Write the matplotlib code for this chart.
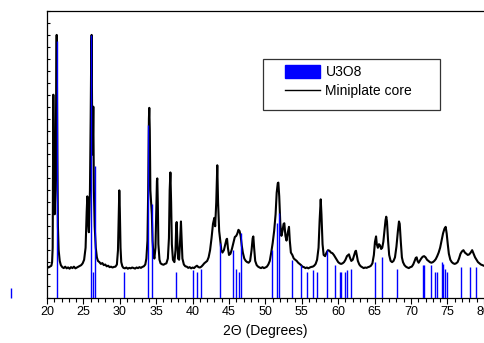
import matplotlib
matplotlib.use("Agg")
import matplotlib.pyplot as plt
from matplotlib.ticker import MultipleLocator, NullFormatter
from matplotlib.patches import Rectangle, Patch
from matplotlib.lines import Line2D

plt.rcParams['font.family'] = ['Liberation Sans', 'DejaVu Sans']

# Measured pattern: Miniplate core (2-theta, counts)
core_2theta = [
    20.0, 20.2, 20.4, 20.6, 20.7, 20.78, 20.87, 20.95, 21.05, 21.15, 21.25, 21.33, 21.42, 21.5, 21.6, 21.75, 21.9,
    22.1, 22.3, 22.5, 22.7, 22.9, 23.1, 23.3, 23.5, 23.7, 23.9, 24.1, 24.3, 24.5, 24.7, 24.9, 25.1, 25.3, 25.45,
    25.54, 25.62, 25.75, 25.9, 26.0, 26.08, 26.13, 26.2, 26.28, 26.36, 26.44, 26.55, 26.7, 26.85, 27.0, 27.2,
    27.4, 27.6, 27.8, 28.0, 28.2, 28.4, 28.6, 28.8, 29.0, 29.2, 29.4, 29.6, 29.75, 29.85, 29.93, 30.0, 30.1,
    30.2, 30.35, 30.5, 30.7, 30.9, 31.1, 31.3, 31.5, 31.7, 31.9, 32.1, 32.3, 32.5, 32.7, 32.9, 33.1, 33.3, 33.5,
    33.65, 33.8, 33.9, 34.0, 34.05, 34.12, 34.2, 34.3, 34.4, 34.5, 34.6, 34.75, 34.9, 35.0, 35.1, 35.15, 35.22,
    35.3, 35.45, 35.6, 35.8, 36.0, 36.2, 36.4, 36.6, 36.75, 36.85, 36.95, 37.05, 37.15, 37.3, 37.5, 37.65,
    37.75, 37.81, 37.9, 38.0, 38.15, 38.3, 38.4, 38.48, 38.6, 38.8, 39.0, 39.2, 39.4, 39.6, 39.8, 40.0, 40.2,
    40.4, 40.6, 40.8, 41.0, 41.2, 41.4, 41.6, 41.8, 42.0, 42.2, 42.4, 42.6, 42.8, 42.98, 43.1, 43.25, 43.39,
    43.5, 43.65, 43.8, 43.95, 44.1, 44.3, 44.5, 44.65, 44.73, 44.85, 45.0, 45.2, 45.4, 45.6, 45.8, 46.0, 46.15,
    46.3, 46.45, 46.6, 46.75, 46.9, 47.1, 47.3, 47.5, 47.7, 47.9, 48.1, 48.25, 48.34, 48.45, 48.6, 48.8, 49.0,
    49.2, 49.4, 49.6, 49.8, 50.0, 50.2, 50.4, 50.6, 50.8, 51.0, 51.2, 51.4, 51.55, 51.7, 51.78, 51.9, 52.05,
    52.2, 52.35, 52.5, 52.6, 52.75, 52.9, 53.05, 53.24, 53.35, 53.5, 53.7, 53.9, 54.1, 54.3, 54.5, 54.7, 54.9,
    55.1, 55.3, 55.5, 55.7, 55.9, 56.1, 56.3, 56.5, 56.7, 56.9, 57.1, 57.3, 57.45, 57.6, 57.7, 57.85, 58.0,
    58.2, 58.4, 58.6, 58.8, 59.0, 59.2, 59.4, 59.6, 59.8, 60.0, 60.2, 60.4, 60.6, 60.8, 61.0, 61.2, 61.4,
    61.48, 61.6, 61.8, 62.0, 62.2, 62.35, 62.44, 62.55, 62.7, 62.9, 63.1, 63.3, 63.5, 63.7, 63.9, 64.1, 64.3,
    64.5, 64.7, 64.9, 65.05, 65.2, 65.3, 65.45, 65.6, 65.75, 65.9, 66.05, 66.2, 66.35, 66.5, 66.6, 66.7, 66.85,
    67.0, 67.2, 67.4, 67.6, 67.8, 68.0, 68.2, 68.35, 68.45, 68.6, 68.75, 68.9, 69.1, 69.3, 69.5, 69.7, 69.9,
    70.1, 70.3, 70.5, 70.65, 70.78, 70.9, 71.05, 71.2, 71.4, 71.6, 71.8, 72.0, 72.2, 72.4, 72.6, 72.8, 73.0,
    73.2, 73.4, 73.6, 73.8, 74.0, 74.2, 74.4, 74.6, 74.76, 74.9, 75.05, 75.2, 75.4, 75.6, 75.8, 76.0, 76.2,
    76.4, 76.6, 76.8, 77.0, 77.2, 77.4, 77.6, 77.8, 78.0, 78.2, 78.4, 78.6, 78.8, 79.0, 79.2, 79.4, 79.6,
    79.8, 80.0,
]
core_counts = [
    265, 255, 262, 270, 300, 420, 1700, 900, 700, 900, 1600, 2200, 1200, 600, 400, 310, 275,
    258, 250, 262, 248, 256, 245, 258, 250, 262, 248, 255, 262, 268, 275, 290, 320, 420, 720,
    850, 650, 550, 900, 1500, 2100, 2200, 1500, 1200, 1600, 900, 600, 420, 340, 310, 300,
    285, 292, 275, 280, 265, 270, 258, 262, 255, 260, 262, 280, 400, 700, 900, 750, 420,
    300, 265, 252, 248, 255, 245, 252, 248, 255, 250, 246, 255, 250, 258, 252, 260, 265, 280,
    330, 480, 900, 1500, 1590, 1400, 900, 800, 700, 480, 380, 330, 420, 700, 980, 1000, 800,
    450, 320, 290, 282, 278, 285, 290, 330, 500, 900, 1050, 800, 450, 320, 300, 400,
    600, 635, 480, 330, 320, 500, 640, 520, 330, 280, 265, 262, 252, 258, 248, 255, 250,
    262, 270, 258, 255, 262, 275, 290, 300, 310, 340, 400, 500, 620, 670, 600, 800, 1110,
    800, 560, 480, 400, 380, 400, 450, 490, 495, 420, 360, 370, 410, 460, 510, 520, 540,
    570, 560, 520, 440, 380, 330, 310, 300, 295, 310, 400, 500, 515, 420, 310, 275, 262,
    255, 250, 258, 250, 255, 262, 280, 310, 380, 460, 560, 700, 880, 960, 965, 850, 620,
    520, 560, 620, 625, 520, 480, 540, 595, 480, 380, 360, 330, 320, 310, 295, 285, 275,
    262, 258, 250, 255, 248, 255, 260, 262, 270, 285, 320, 420, 650, 825, 700, 450, 360,
    350, 380, 400, 395, 380, 375, 360, 340, 320, 300, 290, 285, 290, 300, 320, 350, 360,
    365, 340, 310, 320, 360, 390, 395, 360, 310, 280, 265, 258, 250, 255, 252, 258, 262,
    270, 290, 360, 470, 515, 450, 420, 450, 440, 410, 420, 470, 560, 650, 680, 640, 480,
    360, 310, 300, 310, 340, 430, 560, 640, 620, 470, 340, 300, 275, 262, 255, 250, 258,
    262, 280, 310, 335, 340, 310, 295, 310, 330, 345, 350, 340, 320, 310, 300, 295, 300,
    310, 325, 350, 380, 420, 480, 540, 580, 595, 540, 450, 370, 320, 300, 290, 285, 290,
    300, 330, 370, 390, 400, 380, 370, 360, 365, 380, 400, 370, 340, 320, 300, 290, 280,
    275, 270,
]

# Reference pattern: U3O8 stick positions (2-theta) and heights (counts)
u3o8_2theta = [
    21.41, 25.99, 26.35, 26.59, 30.58, 33.92, 34.38, 37.68, 40.10, 40.56, 41.15, 43.76,
    45.60, 45.97, 46.34, 46.60, 50.95, 51.64, 51.91, 53.61, 54.85, 55.67, 56.49, 57.13,
    58.42, 59.56, 60.25, 60.38, 60.89, 61.17, 61.76, 65.10, 65.97, 68.03, 71.60, 71.74,
    72.70, 73.34, 73.62, 74.22, 74.44, 74.72, 74.90, 76.87, 78.10, 78.89,
]
u3o8_counts = [
    2150, 2200, 216, 1100, 216, 1450, 790, 216, 233, 216, 240, 463,
    400, 240, 216, 540, 400, 625, 710, 317, 276, 220, 233, 220,
    400, 276, 220, 220, 220, 233, 240, 302, 343, 240, 276, 276,
    276, 220, 220, 302, 281, 240, 220, 259, 259, 259,
]
# one stick lying left of the plotted range
outside_2theta = [15.05]
outside_counts = [80]

x_ticks = [20, 25, 30, 35, 40, 45, 50, 55, 60, 65, 70, 75, 80]
x_label = "2\u0398 (Degrees)"
legend_labels = ["U3O8", "Miniplate core"]

W, H = 485, 343
fig = plt.figure(figsize=(W / 100, H / 100), dpi=100)
x0, x1, yb, yt = 47, 483.8, 298, 11
ax = fig.add_axes([x0 / W, (H - yb) / H, (x1 - x0) / W, (yb - yt) / H])

ax.plot(core_2theta, core_counts, color='black', lw=1.5, zorder=2)
ax.vlines(u3o8_2theta, 0, u3o8_counts, colors='#0000ff', lw=1.0, zorder=3)
ax.vlines(outside_2theta, 0, outside_counts, colors='#0000ff', lw=1.0, zorder=3, clip_on=False)

ax.set_xlim(20, 80)
ax.set_ylim(0, 2400)
ax.set_xticks(x_ticks)
ax.xaxis.set_minor_locator(MultipleLocator(1))
ax.yaxis.set_major_locator(MultipleLocator(100))
ax.yaxis.set_major_formatter(NullFormatter())
ax.tick_params(axis='x', which='major', direction='out', length=4, width=0.8, labelsize=9, pad=2)
ax.tick_params(axis='x', which='minor', direction='out', length=3, width=0.8)
ax.tick_params(axis='y', which='major', direction='in', length=2.5, width=0.8)
ax.spines['right'].set_visible(False)
for s in ['left', 'top', 'bottom']:
    ax.spines[s].set_linewidth(0.9)
ax.set_xlabel(x_label, fontsize=10, labelpad=4)

# legend box
lx0 = (263 - x0) / (x1 - x0)
lx1 = (440 - x0) / (x1 - x0)
ly1 = (yb - 59) / (yb - yt)
ly0 = (yb - 110) / (yb - yt)
ax.add_patch(Rectangle((lx0, ly0), lx1 - lx0, ly1 - ly0, transform=ax.transAxes,
                       facecolor='white', edgecolor='#333333', lw=0.9, zorder=5))
handles = [Patch(facecolor='#0000ff', edgecolor='#0000ff'),
           Line2D([0], [0], color='black', lw=1.0)]
leg = ax.legend(handles, legend_labels, loc='upper left',
                bbox_to_anchor=((281 - x0) / (x1 - x0), ly1 - 0.005), frameon=False,
                fontsize=10, handlelength=2.5, handleheight=1.1, handletextpad=0.4,
                labelspacing=0.35, borderpad=0.3, borderaxespad=0)
leg.set_zorder(6)

fig.savefig("out.png", dpi=100)
